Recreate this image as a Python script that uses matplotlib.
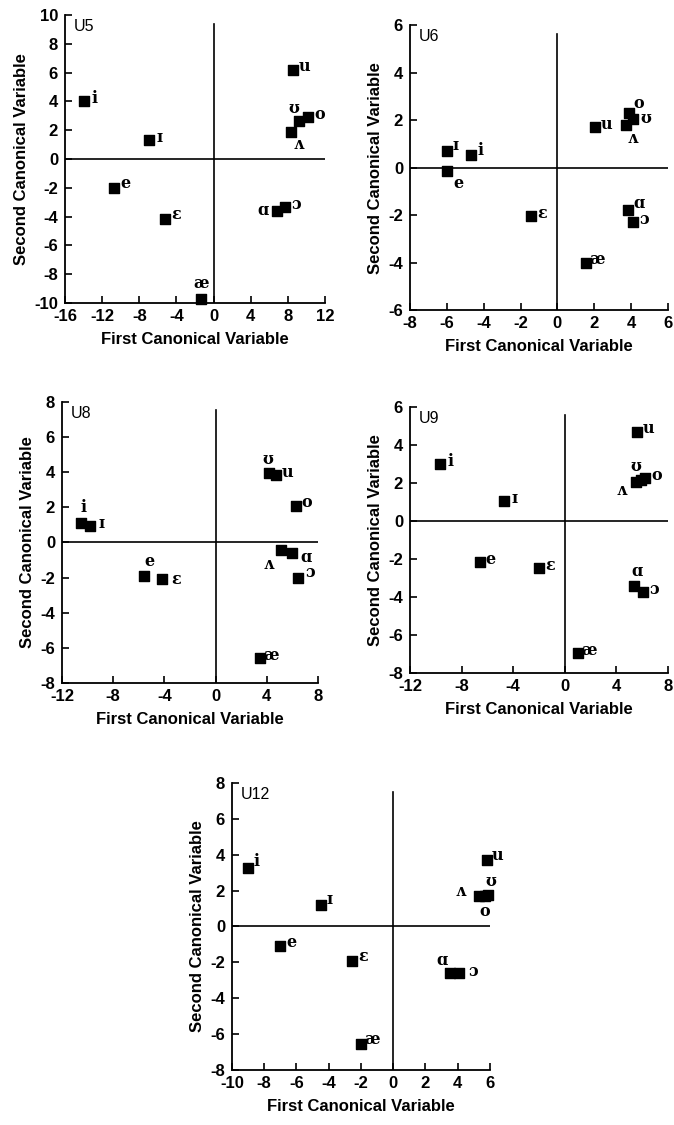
import matplotlib
matplotlib.use("Agg")
import matplotlib.pyplot as plt

plt.rcParams["font.family"] = ["Liberation Sans", "DejaVu Sans"]
plt.rcParams["axes.unicode_minus"] = False

# vowel order shared by every panel
VOWELS = ["i", "ɪ", "e", "ɛ", "æ", "ɑ", "ɔ", "o", "ʊ", "u", "ʌ"]

U5_x = [-14.0, -7.0, -10.7, -5.2, -1.3, 6.8, 7.7, 10.2, 9.2, 8.6, 8.3]
U5_y = [4.0, 1.3, -2.0, -4.15, -9.7, -3.6, -3.35, 2.9, 2.65, 6.2, 1.85]

U6_x = [-4.7, -6.0, -6.0, -1.45, 1.55, 3.85, 4.1, 3.9, 4.1, 2.05, 3.7]
U6_y = [0.55, 0.7, -0.15, -2.05, -4.0, -1.8, -2.3, 2.3, 2.05, 1.7, 1.8]

U8_x = [-10.55, -9.8, -5.6, -4.15, 3.5, 6.0, 6.4, 6.25, 4.2, 4.75, 5.1]
U8_y = [1.1, 0.95, -1.9, -2.1, -6.6, -0.6, -2.05, 2.1, 3.95, 3.85, -0.45]

U9_x = [-9.7, -4.75, -6.6, -2.0, 1.0, 5.35, 6.1, 6.25, 5.9, 5.6, 5.5]
U9_y = [3.0, 1.05, -2.15, -2.5, -6.95, -3.4, -3.75, 2.25, 2.15, 4.7, 2.05]

U12_x = [-9.0, -4.5, -7.0, -2.55, -2.0, 3.55, 4.1, 5.7, 5.9, 5.8, 5.3]
U12_y = [3.25, 1.2, -1.1, -1.9, -6.55, -2.6, -2.6, 1.7, 1.75, 3.7, 1.7]

# label offsets (points) per panel, same order as VOWELS
R = (8, 2)
OFF = {
    "U5": [R, R, (8, 3), (8, 3), (0, 11), (-10, 0), R, R, (-4, 9), R, (6, -9)],
    "U6": [(7, 3), (6, 4), (8, -9), R, R, (8, 5), R, (7, 7), (9, 0), R, (5, -10)],
    "U8": [(2, 11), R, (4, 10), (10, 0), R, (10, -3), (9, 4), R, (-1, 10), R, (-9, -10)],
    "U9": [R, R, R, R, R, (2, 10), R, R, (-4, 10), R, (-10, -6)],
    "U12": [(6, 5), (6, 4), (8, 3), (8, 3), (8, 3), (-6, 9), (10, 1), (0, -11),
            (2, 10), (8, 3), (-13, 3)],
}

# name, x, y, xlim, ylim, xstep, axes rect
PANELS = [
    ("U5", U5_x, U5_y, (-16, 12), (-10, 10), 4, [0.0964, 0.7307, 0.3858, 0.2560]),
    ("U6", U6_x, U6_y, (-8, 6), (-6, 6), 2, [0.6083, 0.7244, 0.3828, 0.2533]),
    ("U8", U8_x, U8_y, (-12, 8), (-8, 8), 4, [0.0920, 0.3929, 0.3798, 0.2498]),
    ("U9", U9_x, U9_y, (-12, 8), (-8, 6), 4, [0.6083, 0.4018, 0.3828, 0.2364]),
    ("U12", U12_x, U12_y, (-10, 6), (-8, 8), 2, [0.3442, 0.0489, 0.3828, 0.2551]),
]

fig = plt.figure(figsize=(6.74, 11.25), dpi=100)

for name, xs, ys, xl, yl, xstep, rect in PANELS:
    ax = fig.add_axes(rect)
    ax.set_xlim(*xl)
    ax.set_ylim(*yl)
    ax.spines["top"].set_visible(False)
    ax.spines["right"].set_visible(False)
    for s in ("left", "bottom"):
        ax.spines[s].set_linewidth(1.3)
    ax.set_xticks(range(xl[0], xl[1] + 1, xstep))
    ax.set_yticks(range(yl[0], yl[1] + 1, 2))
    ax.tick_params(direction="in", length=5, width=1.2, labelsize=12)
    ax.tick_params(axis="x", pad=4)
    ax.tick_params(axis="y", pad=5)
    for lab in ax.get_xticklabels() + ax.get_yticklabels():
        lab.set_fontweight("bold")
    ax.axhline(0, color="black", lw=1.2)
    ax.axvline(0, ymax=0.97, color="black", lw=1.2)
    ax.scatter(xs, ys, marker="s", s=45, color="black", zorder=3, clip_on=False)
    for v, x, y, (dx, dy) in zip(VOWELS, xs, ys, OFF[name]):
        ax.annotate(v, (x, y), xytext=(dx, dy), textcoords="offset points",
                    ha="center", va="center", fontsize=11.5, fontweight="bold",
                    family="DejaVu Serif", annotation_clip=False)
    ax.text(0.035, 0.985, name, transform=ax.transAxes, ha="left", va="top",
            fontsize=11.5)
    ax.set_xlabel("First Canonical Variable", fontsize=12, fontweight="bold",
                  labelpad=6)
    ax.set_ylabel("Second Canonical Variable", fontsize=12, fontweight="bold",
                  labelpad=4)

fig.savefig("out.png", dpi=100)
